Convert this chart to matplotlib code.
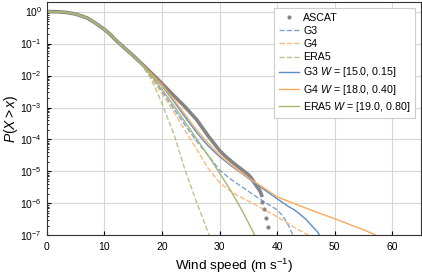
import numpy as np
import matplotlib
matplotlib.use("Agg")
import matplotlib.pyplot as plt

plt.rcParams['font.family'] = ['Liberation Sans', 'DejaVu Sans']
plt.rcParams['mathtext.fontset'] = 'custom'
plt.rcParams['mathtext.rm'] = 'Liberation Sans'
plt.rcParams['mathtext.it'] = 'Liberation Sans:italic'

# shared part of all exceedance curves (wind speed in m/s)
core_speed = [0, 1, 2, 3, 4, 5, 6, 7, 8, 9, 10, 11, 12, 13, 14, 15]
core_prob = [1.0, 0.995, 0.98, 0.955, 0.90, 0.83, 0.73, 0.63, 0.49, 0.37,
             0.275, 0.195, 0.126, 0.087, 0.060, 0.042]

# ASCAT observations
ascat_speed = [16, 17, 18, 19, 20, 22, 24, 26, 28, 30, 31, 32, 33, 34,
               35, 35.5, 36, 36.5, 37, 37.3]
ascat_prob = [0.028, 0.019, 0.0126, 8.5e-3, 5.6e-3, 2.4e-3, 1.05e-3,
              4.2e-4, 1.3e-4, 4.5e-5, 3.0e-5, 2.1e-5, 1.5e-5, 1.1e-5,
              7.9e-6, 6.3e-6, 4.5e-6, 3.3e-6, 2.5e-6, 1.8e-6]
ascat_tail_speed = [37.4, 37.75, 38.1, 38.4]
ascat_tail_prob = [1.12e-6, 6.6e-7, 3.5e-7, 1.8e-7]

# raw model output
g3_speed = [16, 17, 18, 19, 20, 22, 24, 26, 28, 30, 32, 34, 36, 38, 40, 41, 42, 43]
g3_prob = [0.0275, 0.017, 0.010, 5.6e-3, 3.2e-3, 9.5e-4, 2.8e-4, 8.9e-5,
           3.2e-5, 1.1e-5, 5.6e-6, 3.2e-6, 1.8e-6, 1.05e-6, 6.3e-7, 4.0e-7,
           2.0e-7, 7.9e-8]
g4_speed = [16, 17, 18, 19, 20, 22, 24, 26, 28, 30, 31, 33, 36, 40, 44, 46]
g4_prob = [0.0275, 0.0166, 9.3e-3, 5.0e-3, 2.7e-3, 7.6e-4, 1.9e-4, 5.0e-5,
           1.26e-5, 4.5e-6, 3.2e-6, 1.8e-6, 9.5e-7, 3.8e-7, 1.4e-7, 8.9e-8]
era5_speed = [16, 17, 18, 19, 20, 22, 24, 26, 28, 28.6]
era5_prob = [0.026, 0.016, 8.3e-3, 3.5e-3, 1.3e-3, 1.6e-4, 1.1e-5,
             1.1e-6, 1.26e-7, 6.3e-8]

# corrected with W
g3w_speed = [16, 17, 18, 19, 20, 22, 24, 26, 28, 30, 32, 34, 36, 38, 40,
             42, 43, 44, 45, 46, 47, 47.5]
g3w_prob = [0.028, 0.018, 0.0117, 7.6e-3, 4.8e-3, 1.6e-3, 5.0e-4, 1.66e-4,
            6.3e-5, 2.9e-5, 1.5e-5, 8.3e-6, 4.5e-6, 2.5e-6, 1.4e-6, 7.9e-7,
            6.3e-7, 4.5e-7, 3.2e-7, 2.0e-7, 1.3e-7, 8.9e-8]
g4w_speed = [16, 17, 18, 19, 20, 22, 24, 26, 28, 30, 32, 34, 36, 38, 40,
             45, 50, 55, 57.2, 58]
g4w_prob = [0.028, 0.0186, 0.012, 7.9e-3, 5.1e-3, 1.78e-3, 6.0e-4, 2.0e-4,
            7.6e-5, 3.2e-5, 1.6e-5, 8.5e-6, 4.8e-6, 2.8e-6, 1.6e-6, 7.1e-7,
            3.3e-7, 1.5e-7, 1.0e-7, 8.5e-8]
era5w_speed = [16, 17, 18, 19, 20, 22, 24, 26, 28, 30, 32, 34, 35, 36, 36.3]
era5w_prob = [0.0275, 0.0174, 0.0105, 6.3e-3, 3.7e-3, 1.17e-3, 3.5e-4,
              1.05e-4, 3.2e-5, 8.9e-6, 2.4e-6, 5.6e-7, 2.5e-7, 1.1e-7, 7.9e-8]

c_blue = '#5b8cc8'
c_orange = '#fca95c'
c_green = '#a3b973'
c_grey = '#858585'

fig = plt.figure(figsize=(4.22, 2.76), dpi=100)
ax = fig.add_axes([0.111, 0.147, 0.887, 0.846])

ax.plot(core_speed + ascat_speed, core_prob + ascat_prob, '-', color=c_grey, lw=2.6, zorder=1.5)
ax.plot(ascat_tail_speed, ascat_tail_prob, '.', color=c_grey, ms=4, zorder=1.5, label='ASCAT')

ax.plot(core_speed + g3_speed, core_prob + g3_prob, '--', color=c_blue, lw=1, alpha=0.8, label='G3')
ax.plot(core_speed + g4_speed, core_prob + g4_prob, '--', color=c_orange, lw=1, alpha=0.8, label='G4')
ax.plot(core_speed + era5_speed, core_prob + era5_prob, '--', color=c_green, lw=1, alpha=0.8, label='ERA5')
ax.plot(core_speed + g3w_speed, core_prob + g3w_prob, '-', color=c_blue, lw=1, label=r'G3 $W$ = [15.0, 0.15]')
ax.plot(core_speed + g4w_speed, core_prob + g4w_prob, '-', color=c_orange, lw=1, label=r'G4 $W$ = [18.0, 0.40]')
ax.plot(core_speed + era5w_speed, core_prob + era5w_prob, '-', color=c_green, lw=1, label=r'ERA5 $W$ = [19.0, 0.80]')

ax.set_yscale('log')
ax.set_xlim(0, 65)
ax.set_ylim(1e-7, 2)
ax.set_xticks([0, 10, 20, 30, 40, 50, 60])
ax.grid(True, which='major', color='#d6d6d6', lw=0.8)
ax.set_axisbelow(True)
ax.tick_params(direction='in', labelsize=7.5, length=3, which='both')
ax.tick_params(which='minor', length=1.5)
ax.tick_params(axis='x', pad=5)
for s in ax.spines.values():
    s.set_color('#333333')
    s.set_linewidth(0.8)

ax.set_xlabel(r'Wind speed (m s$^{-1}$)', fontsize=9.7, labelpad=3)
ax.set_ylabel(r'$P(X > x)$', fontsize=10, labelpad=0)

leg = ax.legend(loc='upper right', fontsize=7.7, frameon=True, fancybox=False,
                edgecolor='#cccccc', framealpha=1, handlelength=1.9,
                labelspacing=0.3, borderaxespad=0.6, borderpad=0.4,
                handletextpad=0.4)
leg.get_frame().set_linewidth(0.8)

fig.savefig('out.png', dpi=100)
